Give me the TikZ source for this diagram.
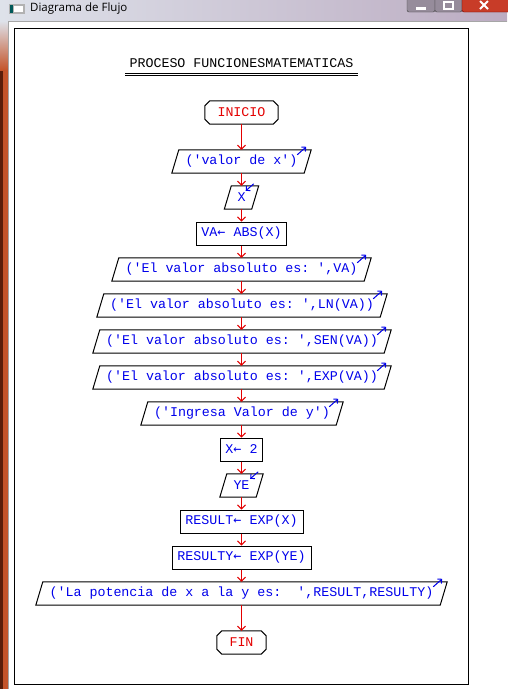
\documentclass[tikz,border=0pt]{standalone}
\usepackage{fontspec}
\setmonofont{Liberation Mono}
\newfontfamily\uifont{Open Sans}
\newfontfamily\arrfont{DejaVu Sans Mono}
\newcommand{\larr}{{\arrfont ←}}
\usetikzlibrary{arrows.meta}
\definecolor{fblue}{RGB}{0,0,235}
\definecolor{fred}{RGB}{228,0,0}
\definecolor{deskorange}{RGB}{196,84,42}
\definecolor{deskdark}{RGB}{90,30,10}
\definecolor{barl}{RGB}{222,226,234}
\definecolor{barr}{RGB}{188,172,194}
\definecolor{btngray}{RGB}{150,140,155}
\definecolor{btnred}{RGB}{200,60,40}
\begin{document}
\begin{tikzpicture}[x=1pt,y=-1pt,
  txt/.style={font=\ttfamily\fontsize{13.33}{14}\selectfont, text=fblue, inner sep=0pt, minimum height=23pt, anchor=center},
  proc/.style={txt, draw=black, line width=1pt},
  iobox/.style={txt},
  term/.style={txt, text=fred},
  flow/.style={draw=fred, line width=1pt, -{Straight Barb[length=4pt,width=8pt]}},
  ioarrow/.style={draw=fblue, line width=1pt, -{Straight Barb[length=3pt,width=6pt]}},
  shapeline/.style={draw=black, line width=1pt}
]
\useasboundingbox (0,0) rectangle (507,689);
% window chrome
\shade[left color=barl, right color=barr] (0,0) rectangle (507,21);
\fill[white] (8,21) rectangle (507,689);
\fill[deskorange] (0,21) rectangle (8,689);
\fill[deskdark] (0,21) rectangle (2.5,689);
\shade[top color=barl, bottom color=deskorange] (0,21) rectangle (8,70);
\draw[gray!70, line width=1pt] (8,21) -- (507,21);
\draw[gray!70, line width=1pt] (8.5,21) -- (8.5,689);
\fill[gray!60] (9,4) rectangle (25,14);
\fill[white] (14,6) rectangle (23,12);
\fill[teal!70!black] (10,5) rectangle (13,13);
\node[font=\uifont\fontsize{11.5}{13}\selectfont, anchor=west, inner sep=0pt] (wtitle) at (30,8.5) {Diagrama de Flujo};
\draw[rounded corners=2pt, fill=btngray, draw=gray!50!black] (407,-3) rectangle (435,12);
\fill[white] (416,7) rectangle (426,9.5);
\draw[rounded corners=2pt, fill=btngray, draw=gray!50!black] (435,-3) rectangle (462,12);
\draw[white, line width=1.2pt] (444,2) rectangle (453,9);
\draw[rounded corners=2pt, fill=btnred, draw=red!40!black] (462,-3) rectangle (510,12);
\draw[white, line width=2pt] (480,1) -- (488,9) (488,1) -- (480,9);
% frame
\draw[black, line width=1pt] (14,28) rectangle (468,684);
% title
\node[font=\ttfamily\fontsize{13.33}{14}\selectfont, inner sep=0pt] (title) at (241.5,63) {PROCESO FUNCIONESMATEMATICAS};
\draw[line width=1pt] (125,73.5) -- (358,73.5);
\draw[line width=1pt] (125,75.5) -- (358,75.5);
% nodes
\node[term, minimum width=73pt] (inicio) at (241.5,112.5) {INICIO};
\node[iobox, minimum width=132pt] (in1) at (241.5,161.5) {('valor de x')};
\node[iobox, minimum width=27pt] (inx) at (241.5,197.5) {X};
\node[proc, minimum width=90pt] (va) at (241.5,233.5) {VA\larr{} ABS(X)};
\node[iobox, minimum width=252pt] (o1) at (241.5,269.5) {('El valor absoluto es: ',VA)};
\node[iobox, minimum width=283pt] (o2) at (242,305.5) {('El valor absoluto es: ',LN(VA))};
\node[iobox, minimum width=291pt] (o3) at (242,341.5) {('El valor absoluto es: ',SEN(VA))};
\node[iobox, minimum width=291pt] (o4) at (242,377.5) {('El valor absoluto es: ',EXP(VA))};
\node[iobox, minimum width=195pt] (in2) at (242,413.5) {('Ingresa Valor de y')};
\node[proc, minimum width=42pt] (x2) at (241.5,449.5) {X\larr{} 2};
\node[iobox, minimum width=36pt] (iny) at (241.5,485.5) {YE};
\node[proc, minimum width=123pt] (res) at (241.5,521.5) {RESULT\larr{} EXP(X)};
\node[proc, minimum width=139pt] (resy) at (241.5,557.5) {RESULTY\larr{} EXP(YE)};
\node[iobox, minimum width=404pt] (o5) at (241.5,593.5) {('La potencia de x a la y es: ~',RESULT,RESULTY)};
\node[term, minimum width=49pt] (fin) at (241.5,642.5) {FIN};
% parallelograms
\foreach \n in {in1,inx,o1,o2,o3,o4,in2,iny,o5}
  \draw[shapeline] ([xshift=3.5pt]\n.north west) -- ([xshift=3.5pt]\n.north east) -- ([xshift=-3.5pt]\n.south east) -- ([xshift=-3.5pt]\n.south west) -- cycle;
% octagons
\foreach \n in {inicio,fin}
  \draw[shapeline] ([xshift=5pt]\n.north west) -- ([xshift=-5pt]\n.north east) -- ([yshift=-5pt]\n.north east) -- ([yshift=5pt]\n.south east) -- ([xshift=-5pt]\n.south east) -- ([xshift=5pt]\n.south west) -- ([yshift=5pt]\n.south west) -- ([yshift=-5pt]\n.north west) -- cycle;
% output markers
\foreach \n in {in1,o1,o2,o3,o4,in2,o5}
  \draw[ioarrow] ([xshift=-10.5pt,yshift=-5pt]\n.north east) -- ([xshift=-1.5pt,yshift=3pt]\n.north east);
% input markers
\foreach \n in {inx,iny}
  \draw[ioarrow] ([xshift=-1.5pt,yshift=2pt]\n.north east) -- ([xshift=-9.5pt,yshift=-5pt]\n.north east);
% connectors
\foreach \a/\b in {inicio/in1,in1/inx,inx/va,va/o1,o1/o2,o2/o3,o3/o4,o4/in2,in2/x2,x2/iny,iny/res,res/resy,resy/o5,o5/fin}
  \draw[flow] (inicio.south |- \a.south) -- (inicio.south |- \b.north);
\end{tikzpicture}
\end{document}
